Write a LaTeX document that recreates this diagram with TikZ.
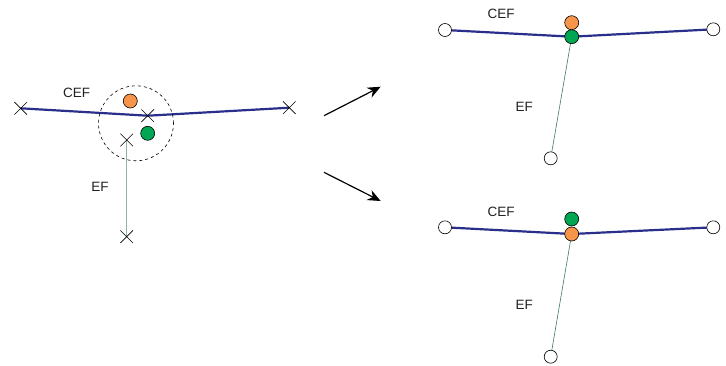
\documentclass[tikz,border=0pt]{standalone}
\usepackage{fontspec}
\setmainfont{Liberation Sans}
\usepackage{xcolor}
\usetikzlibrary{positioning,arrows.meta,shapes.misc,backgrounds}

\definecolor{cefblue}{HTML}{2B2F8C}
\definecolor{efgreen}{HTML}{8DB59E}
\definecolor{efdark}{HTML}{3E7A5A}
\definecolor{dotorange}{HTML}{F7964B}
\definecolor{dotgreen}{HTML}{00A651}
\definecolor{labelgray}{HTML}{231F20}

\begin{document}
\begin{tikzpicture}[
  x=1pt, y=-1pt,
  every node/.style={font=\fontsize{13.5}{16}\selectfont, text=labelgray},
  xmark/.style={draw=black, cross out, minimum size=12pt, inner sep=0pt, line width=0.6pt},
  hole/.style={draw=black, circle, fill=white, minimum size=13pt, inner sep=0pt, line width=0.6pt},
  dot/.style={draw=black, circle, minimum size=14pt, inner sep=0pt, line width=0.6pt},
  odot/.style={dot, fill=dotorange},
  gdot/.style={dot, fill=dotgreen},
  cef/.style={draw=cefblue, line width=2.2pt},
  ef/.style={draw=efgreen, line width=0.9pt},
  efr/.style={draw=efdark, line width=0.6pt},
  arr/.style={-{Stealth[length=13pt,width=11pt]}, line width=1.2pt}
]
  \useasboundingbox (0,0) rectangle (726,365);

  % Before merging
  \node[xmark] (l1) at (20.7,108.3) {};
  \node[xmark] (l2) at (147.7,115.7) {};
  \node[xmark] (l3) at (289.3,107.7) {};
  \node[xmark] (l4) at (126.7,140) {};
  \node[xmark] (l5) at (126.7,236.7) {};
  \node[odot] (lo) at (130.3,101) {};
  \node[gdot] (lg) at (147.7,133.3) {};
  \node[draw=black, dashed, circle, minimum size=75pt, inner sep=0pt, line width=0.6pt] (zone) at (136,123.3) {};
  \node (lcef) at (76.7,93.3) {CEF};
  \node (lef) at (100,187) {EF};

  % Case 1: EF under CEF
  \node[hole] (a1) at (445,30) {};
  \node[gdot] (a2) at (571.7,36.7) {};
  \node[hole] (a3) at (713.3,29.3) {};
  \node[odot] (ao) at (571.7,22.7) {};
  \node[hole] (a4) at (550.7,158.3) {};
  \node (acef) at (501,14) {CEF};
  \node (aef) at (524.3,107.3) {EF};

  % Case 2: CEF under EF
  \node[hole] (b1) at (445,227.3) {};
  \node[odot] (b2) at (571.7,234) {};
  \node[hole] (b3) at (713.3,227.3) {};
  \node[gdot] (bg) at (571.7,219) {};
  \node[hole] (b4) at (550.7,356.7) {};
  \node (bcef) at (501,211.7) {CEF};
  \node (bef) at (524.3,305) {EF};

  % Arrows
  \coordinate (s1) at (324,115.7);
  \coordinate (e1) at (380.7,86.7);
  \coordinate (s2) at (324,172.3);
  \coordinate (e2) at (380.7,201);
  \draw[arr] (s1) -- (e1);
  \draw[arr] (s2) -- (e2);

  % Lines
  \begin{scope}[on background layer]
    \draw[cef] (l1.center) -- (l2.center) -- (l3.center);
    \draw[ef] (l4.center) -- (l5.center);
    \draw[cef] (a1.center) -- (a2.center) -- (a3.center);
    \draw[efr] (a2.center) -- (a4.center);
    \draw[cef] (b1.center) -- (b2.center) -- (b3.center);
    \draw[efr] (b2.center) -- (b4.center);
  \end{scope}
\end{tikzpicture}
\end{document}
